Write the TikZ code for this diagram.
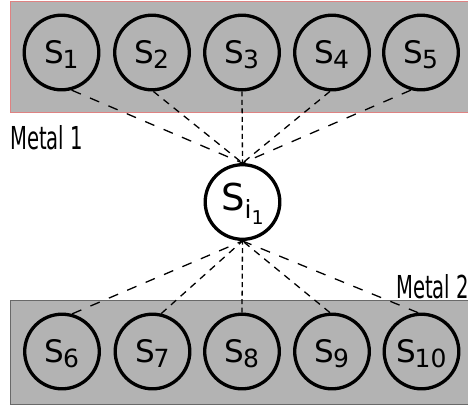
\documentclass[tikz,border=0pt]{standalone}
\usepackage{fontspec}
\setmainfont{DejaVu Sans}
\definecolor{metalfill}{RGB}{179,179,179}
\definecolor{topedge}{RGB}{222,130,130}
\definecolor{botedge}{RGB}{105,105,105}
% site label: large S with a smaller lowered index
\newcommand{\sitelab}[1]{\smash{\raisebox{-11pt}{{\fontsize{31}{31}\selectfont S}\kern-1.5pt\raisebox{-5pt}{\fontsize{25}{25}\selectfont #1}}}}
\tikzset{
  site/.style={circle, draw=black, line width=3.3pt, minimum size=74.6pt, inner sep=0pt},
  metal/.style={line width=1pt, fill=metalfill},
  metallabel/.style={anchor=base west, inner sep=0pt},
  link/.style={line width=1.3pt},
  longdash/.style={link, dash pattern=on 10pt off 10pt},
  middash/.style={link, dash pattern=on 7pt off 6pt},
  shortdash/.style={link, dash pattern=on 5pt off 3.5pt},
}
\begin{document}
\begin{tikzpicture}[x=1pt, y=-1pt]
\useasboundingbox (0,0) rectangle (468,405);
\clip (0,0) rectangle (468,405);
% the two metal layers
\draw[metal, draw=topedge] (10,1) rectangle (480,112);
\draw[metal, draw=botedge] (10,300) rectangle (480,404);
% layer names
\node[metallabel] (m1) at (10,149) {\scalebox{0.62}[1]{\fontsize{31.6}{32}\selectfont Metal 1}};
\node[metallabel] (m2) at (396,298) {\scalebox{0.62}[1]{\fontsize{31.6}{32}\selectfont Metal 2}};
% sites in metal 1
\node[site] (s1) at (61.5,52.5) {\sitelab{1}};
\node[site] (s2) at (152,52.5) {\sitelab{2}};
\node[site] (s3) at (242,52.5) {\sitelab{3}};
\node[site] (s4) at (332,52.5) {\sitelab{4}};
\node[site] (s5) at (421,52.5) {\sitelab{5}};
% sites in metal 2
\node[site] (s6) at (62,351.5) {\sitelab{6}};
\node[site] (s7) at (152.5,351.5) {\sitelab{7}};
\node[site] (s8) at (242,351.5) {\sitelab{8}};
\node[site] (s9) at (332,351.5) {\sitelab{9}};
\node[site] (s10) at (421.5,351.5) {\sitelab{10}};
% interstitial site
\node[site, fill=white] (si) at (242.5,202) {\smash{\raisebox{-8pt}{{\fontsize{37}{37}\selectfont S}\raisebox{-8pt}{{\fontsize{25}{25}\selectfont i}\raisebox{-6pt}{\fontsize{19}{19}\selectfont 1}}}}};
% hops to metal 1
\draw[longdash] (s1.-75) -- (si.north);
\draw[middash] (s2.-88) -- (si.north);
\draw[shortdash] (s3.south) -- (si.north);
\draw[middash] (s4.-93) -- (si.north);
\draw[longdash] (s5.-105) -- (si.north);
% hops to metal 2
\draw[longdash] (s6.75) -- (si.south);
\draw[middash] (s7.77) -- (si.south);
\draw[shortdash] (s8.north) -- (si.south);
\draw[middash] (s9.93) -- (si.south);
\draw[longdash] (s10.95) -- (si.south);
\end{tikzpicture}
\end{document}
